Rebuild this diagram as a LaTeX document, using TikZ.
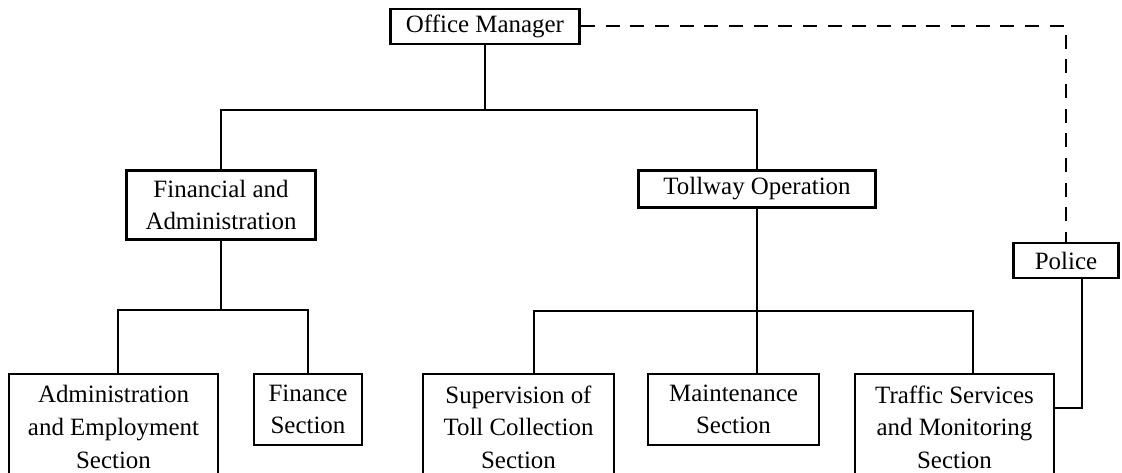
\documentclass[tikz,border=0pt]{standalone}
\usepackage{fontspec}
\setmainfont{Liberation Serif}
\begin{document}
\begin{tikzpicture}[x=0.75pt,y=-0.75pt,
  box/.style={draw,line width=2.1pt,fill=white,align=center,inner sep=0pt,
    font=\fontsize{18.7}{24.4}\selectfont},
  conn/.style={line width=2pt},
  thinconn/.style={line width=1.1pt},
  dashconn/.style={line width=1.5pt,dash pattern=on 10.5pt off 8pt}]
\useasboundingbox (0,0) rectangle (1122,473);
\fill[white] (0,0) rectangle (1122,473);
% named junction coordinates
\coordinate (ytop) at (0,110);
\coordinate (yl) at (0,310);
\coordinate (xa) at (118,0);
\coordinate (rs) at (534,311);
\coordinate (rt) at (973,311);
\coordinate (xp) at (1082,0);
\coordinate (yp) at (0,408);
% nodes
\node[box,minimum width=189*0.75pt,minimum height=35*0.75pt] (om) at (485,26.5) {Office Manager};
\node[box,minimum width=189*0.75pt,minimum height=69*0.75pt] (fin) at (221,205) {Financial and\\Administration};
\node[box,minimum width=237*0.75pt,minimum height=37*0.75pt] (toll) at (757,189) {Tollway Operation};
\node[box,minimum width=105*0.75pt,minimum height=35*0.75pt] (police) at (1066,260.5) {Police};
\node[box,minimum width=209*0.75pt,minimum height=106*0.75pt] (admin) at (113.5,427) {Administration\\and Employment\\Section};
\node[box,minimum width=108*0.75pt,minimum height=71*0.75pt] (finsec) at (308,409.5) {Finance\\Section};
\node[box,minimum width=191*0.75pt,minimum height=106*0.75pt] (sup) at (518.5,427) {Supervision of\\Toll Collection\\Section};
\node[box,minimum width=171*0.75pt,minimum height=71*0.75pt] (maint) at (733.5,409.5) {Maintenance\\Section};
\node[box,minimum width=199*0.75pt,minimum height=106*0.75pt] (traf) at (954.5,427) {Traffic Services\\and Monitoring\\Section};
% connectors
\draw[conn] (om.south) -- (om.south |- ytop);
\draw[conn] (fin.north) |- (toll.north |- ytop) -- (toll.north);
\draw[conn] (fin.south) -- (fin.south |- yl);
\draw[conn] (admin.north -| xa) |- (finsec.north |- yl) -- (finsec.north);
\draw[conn] (toll.south) -- (maint.north -| toll.south);
\draw[conn] (sup.north -| rs) -- (rs) -- (rt) -- (traf.north -| rt);
\draw[dashconn] (om.east) -| (police.north);
\draw[thinconn] (police.south -| xp) |- (traf.east |- yp);
\end{tikzpicture}
\end{document}
